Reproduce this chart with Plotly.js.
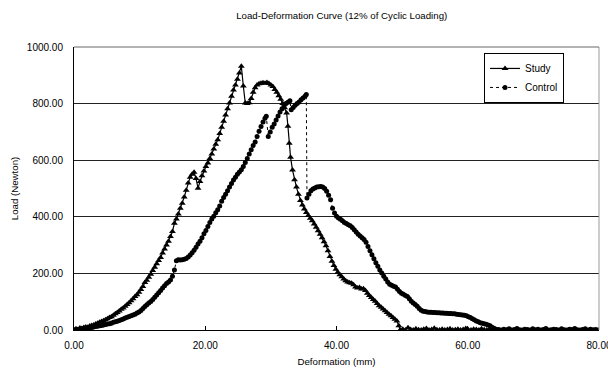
<!DOCTYPE html>
<html>
<head>
<meta charset="utf-8">
<script src="https://cdn.plot.ly/plotly-3.0.1.min.js"></script>
<style>html,body{margin:0;padding:0;background:#fff}#chart{width:608px;height:369px}</style>
</head>
<body>
<div id="chart"></div>
<script>
// Study series (deformation mm, load N)
var studyX = [
0.0,0.3,0.6,0.9,1.2,1.5,1.8,2.1,2.4,2.7,
3.0,3.3,3.6,3.9,4.2,4.5,4.8,5.1,5.4,5.7,
6.0,6.3,6.6,6.9,7.2,7.5,7.8,8.1,8.4,8.7,
9.0,9.3,9.6,9.9,10.2,10.5,10.8,11.1,11.4,11.7,
12.0,12.3,12.6,12.9,13.2,13.5,13.8,14.1,14.4,14.7,
15.0,15.3,15.6,15.9,16.2,16.5,16.8,17.1,17.4,17.7,
18.0,18.3,18.6,18.9,19.2,19.5,19.8,20.1,20.4,20.7,
21.0,21.3,21.6,21.9,22.2,22.5,22.8,23.1,23.4,23.7,
24.0,24.3,24.6,24.9,25.2,25.5,25.8,26.1,26.4,26.7,
27.0,27.3,27.6,27.9,28.2,28.5,28.8,29.1,29.4,29.7,
30.0,30.3,30.6,30.9,31.2,31.5,31.8,32.1,32.4,
32.6,32.8,33.0,33.3,33.6,33.9,34.2,34.5,34.8,35.1,
35.4,35.7,36.0,36.3,36.6,36.9,37.2,37.5,37.8,38.1,
38.4,38.7,39.0,39.3,39.6,39.9,40.2,40.5,40.8,41.1,
41.4,41.7,42.0,42.3,42.6,42.9,43.2,43.5,43.8,44.1,
44.4,44.7,45.0,45.3,45.6,45.9,46.2,46.5,46.8,47.1,
47.4,47.7,48.0,48.3,48.6,48.9,49.2,49.5,49.7,
50.1,50.5,50.9,51.3,51.7,52.1,52.5,52.9,53.3,53.7,
54.1,54.5,54.9,55.3,55.7,56.1,56.5,56.9,57.3,57.7,
58.1,58.5,58.9,59.3,59.7,60.1,60.5,60.9,61.3,61.7,
62.1,62.5,62.9,63.3,63.7
];
var studyY = [
0,4,2,7,5,9,11,10,14,16,
18,21,24,27,30,33,36,40,44,47,
52,57,62,67,73,78,84,90,96,103,
110,118,125,133,143,154,168,176,186,197,
210,222,234,246,256,272,286,300,314,330,
348,377,392,410,430,448,470,494,519,540,
550,557,535,501,525,545,562,578,590,606,
622,640,656,672,694,716,738,760,782,802,
826,848,866,886,908,932,862,802,800,803,
818,840,856,866,870,872,874,872,875,871,
866,860,850,840,828,815,800,785,767,
720,660,610,565,531,505,480,458,442,428,
415,405,395,386,375,363,351,338,326,312,
298,280,260,243,228,215,204,195,188,180,
174,170,167,165,160,152,148,150,145,146,
140,130,122,115,108,102,94,86,80,74,
68,62,56,50,44,38,32,15,0,
3,0,8,2,0,4,1,0,3,5,
0,2,6,1,0,3,0,2,4,0,
1,3,0,2,5,1,0,3,2,0,
4,1,0,2,0
];
// Control series
var controlX = [
0.0,0.3,0.6,0.9,1.2,1.5,1.8,2.1,2.4,2.7,
3.0,3.3,3.6,3.9,4.2,4.5,4.8,5.1,5.4,5.7,
6.0,6.3,6.6,6.9,7.2,7.5,7.8,8.1,8.4,8.7,
9.0,9.3,9.6,9.9,10.2,10.5,10.8,11.1,11.4,11.7,
12.0,12.3,12.6,12.9,13.2,13.5,13.8,14.1,14.4,14.7,
15.0,15.3,15.6,15.9,16.2,16.5,16.8,17.1,17.4,17.7,
18.0,18.3,18.6,18.9,19.2,19.5,19.8,20.1,20.4,20.7,
21.0,21.3,21.6,21.9,22.2,22.5,22.8,23.1,23.4,23.7,
24.0,24.3,24.6,24.9,25.2,25.5,25.8,26.1,26.4,26.7,
27.0,27.3,27.6,27.9,28.2,28.5,28.8,29.1,29.3,
29.6,29.9,30.2,30.5,30.8,31.1,31.4,31.7,32.0,32.3,
32.6,32.9,33.1,33.4,33.7,34.0,34.3,34.6,34.9,35.2,35.4,
35.5,35.8,36.1,36.4,36.7,37.0,37.3,37.6,37.9,38.2,
38.5,38.8,39.1,39.4,39.7,40.0,40.3,40.6,40.9,41.2,
41.5,41.8,42.1,42.4,42.7,43.0,43.3,43.6,43.9,44.2,
44.5,44.8,45.1,45.4,45.7,46.0,46.3,46.6,46.9,47.2,
47.5,47.8,48.1,48.4,48.7,49.0,49.3,49.6,49.9,50.2,
50.5,50.8,51.1,51.4,51.7,52.0,52.3,52.6,52.9,53.2,
53.5,53.8,54.1,54.4,54.7,55.0,55.3,55.6,55.9,56.2,
56.5,56.8,57.1,57.4,57.7,58.0,58.3,58.6,58.9,59.2,
59.5,59.8,60.1,60.4,60.7,61.0,61.3,61.6,61.9,62.2,
62.5,62.8,63.1,63.4,63.7,64.0,64.3,
64.7,65.1,65.5,65.9,66.3,66.7,67.1,67.5,67.9,68.3,
68.7,69.1,69.5,69.9,70.3,70.7,71.1,71.5,71.9,72.3,
72.7,73.1,73.5,73.9,74.3,74.7,75.1,75.5,75.9,76.3,
76.7,77.1,77.5,77.9,78.3,78.7,79.1,79.5,79.9
];
var controlY = [
0,1,2,3,4,5,6,7,8,9,
11,12,13,15,16,18,19,21,22,24,
27,29,31,34,36,39,42,45,48,50,
53,56,60,64,69,76,83,89,95,101,
108,116,124,132,140,148,156,164,170,177,
190,212,245,248,247,248,250,253,258,265,
273,282,292,304,314,326,340,352,366,380,
392,402,414,425,438,455,468,480,492,505,
518,530,540,550,558,566,578,592,606,622,
637,652,664,684,702,719,735,748,755,
684,700,716,728,742,756,770,782,792,800,
805,810,778,786,794,800,806,814,820,826,832,
466,480,492,498,502,505,506,507,505,500,
490,476,460,430,413,402,396,391,386,380,
376,372,368,362,354,346,338,332,326,320,
310,295,280,266,252,238,225,212,201,190,
180,170,162,158,155,152,144,136,130,126,
122,118,110,102,95,90,84,76,70,66,
65,64,63,63,62,62,61,61,60,60,
59,59,58,58,57,57,56,55,54,53,
52,50,47,44,40,36,32,29,26,24,
22,20,18,15,10,6,3,
2,0,3,1,4,0,2,5,1,0,
3,2,0,4,1,3,0,2,5,0,
1,3,2,0,4,1,0,3,2,5,
1,0,2,4,0,3,1,2,0
];
var xTickVals = [0, 20, 40, 60, 80];
var yTickVals = [0, 200, 400, 600, 800, 1000];

var FONT = "'Liberation Sans', Arial, sans-serif";

var traces = [
  {
    x: studyX, y: studyY, name: 'Study', type: 'scatter', mode: 'lines+markers',
    line: {color: '#000', width: 1.2},
    marker: {symbol: 'triangle-up', size: 6, color: '#000'}
  },
  {
    x: controlX, y: controlY, name: 'Control', type: 'scatter', mode: 'lines+markers',
    line: {color: '#000', width: 1, dash: 'dot'},
    marker: {symbol: 'circle', size: 5, color: '#000'}
  }
];

var layout = {
  width: 608, height: 369,
  margin: {l: 74, r: 9, t: 47, b: 39},
  paper_bgcolor: '#fff', plot_bgcolor: '#fff',
  font: {family: FONT, color: '#000', size: 10},
  showlegend: true,
  title: {
    text: 'Load-Deformation Curve (12% of Cyclic Loading)',
    font: {family: FONT, size: 9.7, color: '#000'},
    x: 0.51, xref: 'paper', xanchor: 'center',
    y: 1 - 15.7 / 369, yref: 'container', yanchor: 'middle'
  },
  xaxis: {
    range: [0, 80], tickvals: xTickVals, tickformat: '.2f',
    showgrid: false, zeroline: false,
    showline: true, linecolor: '#000', linewidth: 1,
    ticks: 'inside', ticklen: 4, tickcolor: '#000',
    tickfont: {family: FONT, size: 10, color: '#000'},
    ticklabelstandoff: 6,
    ticklabeloverflow: 'allow',
    title: {text: 'Deformation (mm)', font: {family: FONT, size: 9.7, color: '#000'}, standoff: 8},
    fixedrange: true
  },
  yaxis: {
    range: [0, 1000], tickvals: yTickVals, tickformat: '.2f',
    showgrid: true, gridcolor: '#222', gridwidth: 1, zeroline: false,
    showline: true, linecolor: '#000', linewidth: 1,
    ticks: '',
    tickfont: {family: FONT, size: 10, color: '#000'},
    ticklabelstandoff: 8,
    title: {text: 'Load (Newton)', font: {family: FONT, size: 9.7, color: '#000'}, standoff: 6},
    fixedrange: true
  },
  legend: {
    x: 0.781, y: 0.979, xanchor: 'left', yanchor: 'top',
    bgcolor: '#fff', bordercolor: '#000', borderwidth: 1,
    font: {family: FONT, size: 10, color: '#000'},
    tracegroupgap: 0
  },
  shapes: [
    {type: 'line', xref: 'paper', yref: 'paper', x0: 1, x1: 1, y0: 0, y1: 1,
     line: {color: '#999', width: 1}},
    {type: 'line', xref: 'paper', yref: 'paper', x0: 0, x1: 1, y0: 1, y1: 1,
     line: {color: '#666', width: 1}}
  ]
};

Plotly.newPlot('chart', traces, layout, {displayModeBar: false, staticPlot: true});
</script>
</body>
</html>
